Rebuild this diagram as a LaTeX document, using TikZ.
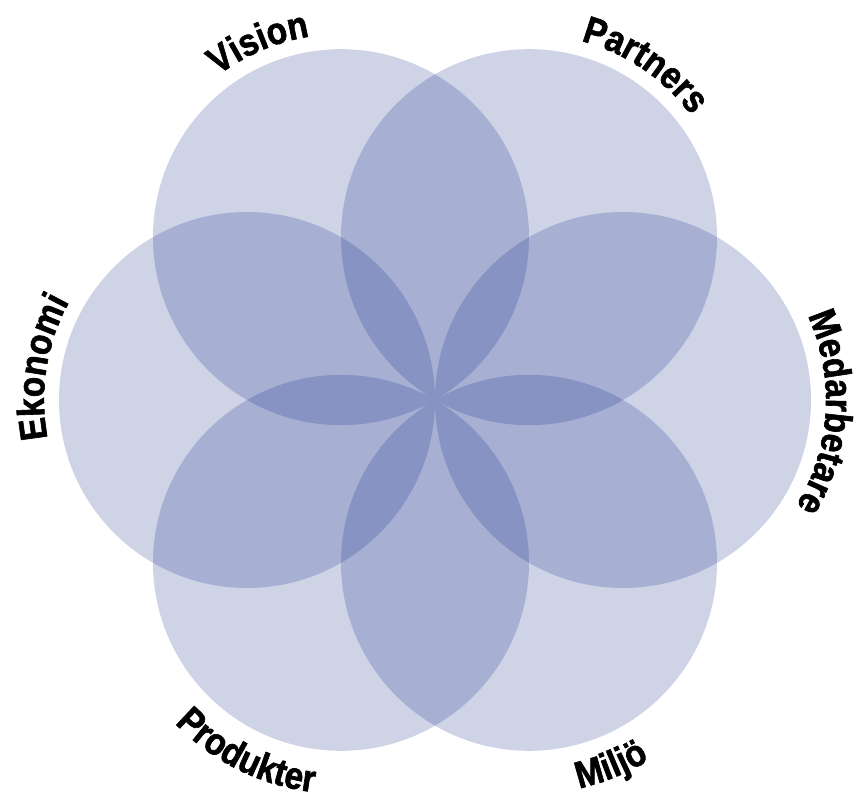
\documentclass[tikz,border=0pt]{standalone}
\usepackage{fontspec}
\newfontfamily\lblfam{Liberation Sans}[FakeStretch=0.88, FakeBold=1.6]
\usetikzlibrary{decorations.text}
\definecolor{petal}{RGB}{10,35,130}
\newcommand\lblfont{\fontsize{38}{44}\selectfont\lblfam\bfseries}
\begin{document}
\begin{tikzpicture}[x=1pt,y=1pt,
  petalfill/.style={fill=petal, fill opacity=0.2},
  arclabel/.style={decorate, decoration={text along path, text align=center, text={#1}}}]
\useasboundingbox (0,0) rectangle (854,796);
\coordinate (C) at (435,396);
\foreach \a/\n in {0/med,60/par,120/vis,180/eko,240/pro,300/mil}
  \path (C) ++(\a:188) coordinate (\n);
\foreach \n in {med,par,vis,eko,pro,mil}
  \fill[petalfill] (\n) circle[radius=188];
\path[arclabel={|\lblfont|Vision}] (vis) ++(163:203) arc[start angle=163, end angle=63, radius=203];
\path[arclabel={|\lblfont|Partners}] (par) ++(106:203) arc[start angle=106, end angle=6, radius=203];
\path[arclabel={|\lblfont|Medarbetare}] (med) ++(46.5:203) arc[start angle=46.5, end angle=-53.5, radius=203];
\path[arclabel={|\lblfont|Ekonomi}] (eko) ++(221:203) arc[start angle=221, end angle=121, radius=203];
\path[arclabel={|\lblfont|Produkter}] (pro) ++(193.6:231) arc[start angle=193.6, end angle=293.6, radius=231];
\path[arclabel={|\lblfont|Miljö}] (mil) ++(242:231) arc[start angle=242, end angle=342, radius=231];
\end{tikzpicture}
\end{document}
